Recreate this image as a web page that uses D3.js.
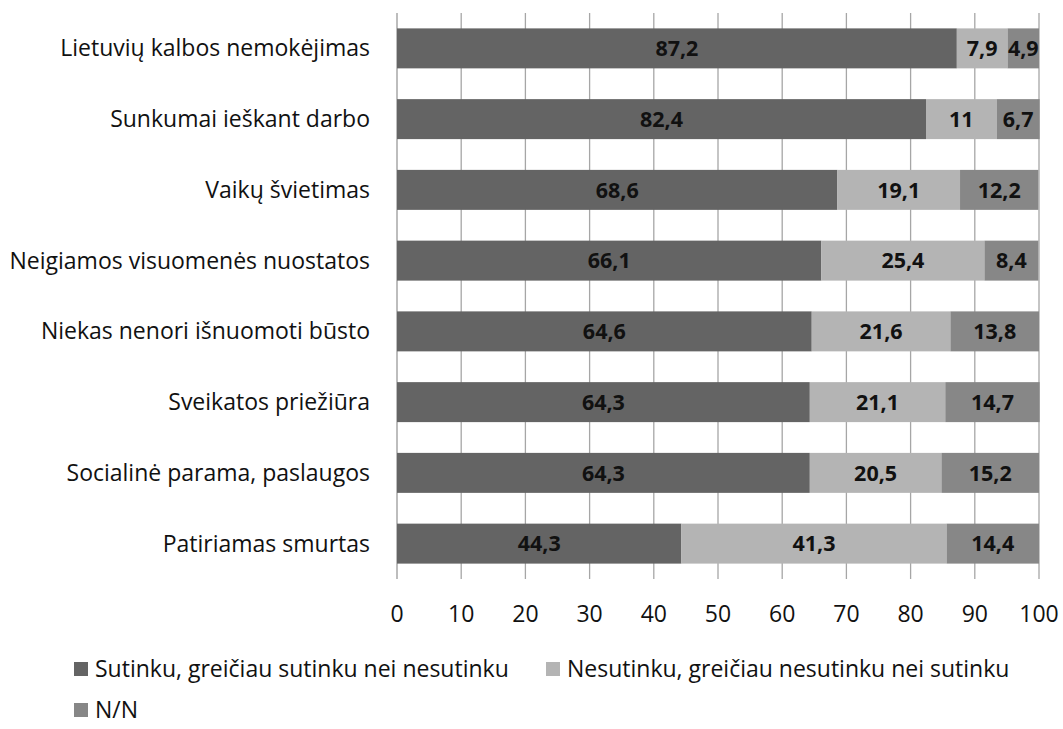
<!DOCTYPE html>
<html><head><meta charset="utf-8">
<script src="https://cdn.jsdelivr.net/npm/d3@7"></script>
<style>body{margin:0;background:#fff}svg{display:block}text{font-family:"Open Sans",sans-serif}</style>
</head><body><svg id="c" width="1063" height="729"></svg>
<script>
const categories = ["Lietuvių kalbos nemokėjimas","Sunkumai ieškant darbo","Vaikų švietimas","Neigiamos visuomenės nuostatos","Niekas nenori išnuomoti būsto","Sveikatos priežiūra","Socialinė parama, paslaugos","Patiriamas smurtas"];
const seriesNames = ["Sutinku, greičiau sutinku nei nesutinku","Nesutinku, greičiau nesutinku nei sutinku","N/N"];
const agree = [87.2,82.4,68.6,66.1,64.6,64.3,64.3,44.3];
const disagree = [7.9,11,19.1,25.4,21.6,21.1,20.5,41.3];
const nn = [4.9,6.7,12.2,8.4,13.8,14.7,15.2,14.4];
const xTicks = [0,10,20,30,40,50,60,70,80,90,100];
const colors = ["#646464","#b4b4b4","#878787"];

const svg = d3.select("#c");
const x = d3.scaleLinear().domain([0,100]).range([397,1039]);
const y = d3.scaleBand().domain(categories).range([13,579]).paddingInner(0.435).paddingOuter(0.2175);

// gridlines
svg.append("g").selectAll("line").data(xTicks).join("line")
  .attr("x1",d=>x(d)).attr("x2",d=>x(d)).attr("y1",13).attr("y2",579)
  .attr("stroke",d=>d===0?"#9a9a9a":"#a6a6a6").attr("stroke-width",1.3);

const series = [agree,disagree,nn];
const rows = categories.map((c,i)=>{let s=0;return series.map((arr,k)=>{const o={c,k,v:arr[i],x0:s,x1:s+arr[i]};s+=arr[i];return o;});}).flat();

svg.append("g").selectAll("rect").data(rows).join("rect")
  .attr("x",d=>x(d.x0)).attr("width",d=>x(d.x1)-x(d.x0))
  .attr("y",d=>y(d.c)).attr("height",y.bandwidth())
  .attr("fill",d=>colors[d.k]);

svg.append("g").selectAll("text").data(rows).join("text")
  .attr("x",d=>x((d.x0+d.x1)/2)).attr("y",d=>y(d.c)+y.bandwidth()/2)
  .attr("dy","0.36em").attr("text-anchor","middle")
  .attr("font-size",21.5).attr("font-weight","bold").attr("fill","#111")
  .text(d=>String(d.v).replace(".",","));

// category labels
svg.append("g").selectAll("text").data(categories).join("text")
  .attr("x",370).attr("y",d=>y(d)+y.bandwidth()/2).attr("dy","0.35em")
  .attr("text-anchor","end").attr("font-size",23).attr("fill","#111").text(d=>d);

// x tick labels
svg.append("g").selectAll("text").data(xTicks).join("text")
  .attr("x",d=>x(d)).attr("y",614).attr("dy","0.35em").attr("text-anchor","middle")
  .attr("font-size",23).attr("fill","#111").text(d=>d);

// legend
const leg = [{x:74,y:669},{x:546,y:669},{x:74,y:710}];
const lg = svg.append("g").selectAll("g").data(seriesNames).join("g")
  .attr("transform",(d,i)=>`translate(${leg[i].x},${leg[i].y})`);
lg.append("rect").attr("x",0).attr("y",-7).attr("width",14).attr("height",14).attr("fill",(d,i)=>colors[i]);
lg.append("text").attr("x",21).attr("y",0).attr("dy","0.35em").attr("font-size",23).attr("fill","#111").text(d=>d);
</script></body></html>
